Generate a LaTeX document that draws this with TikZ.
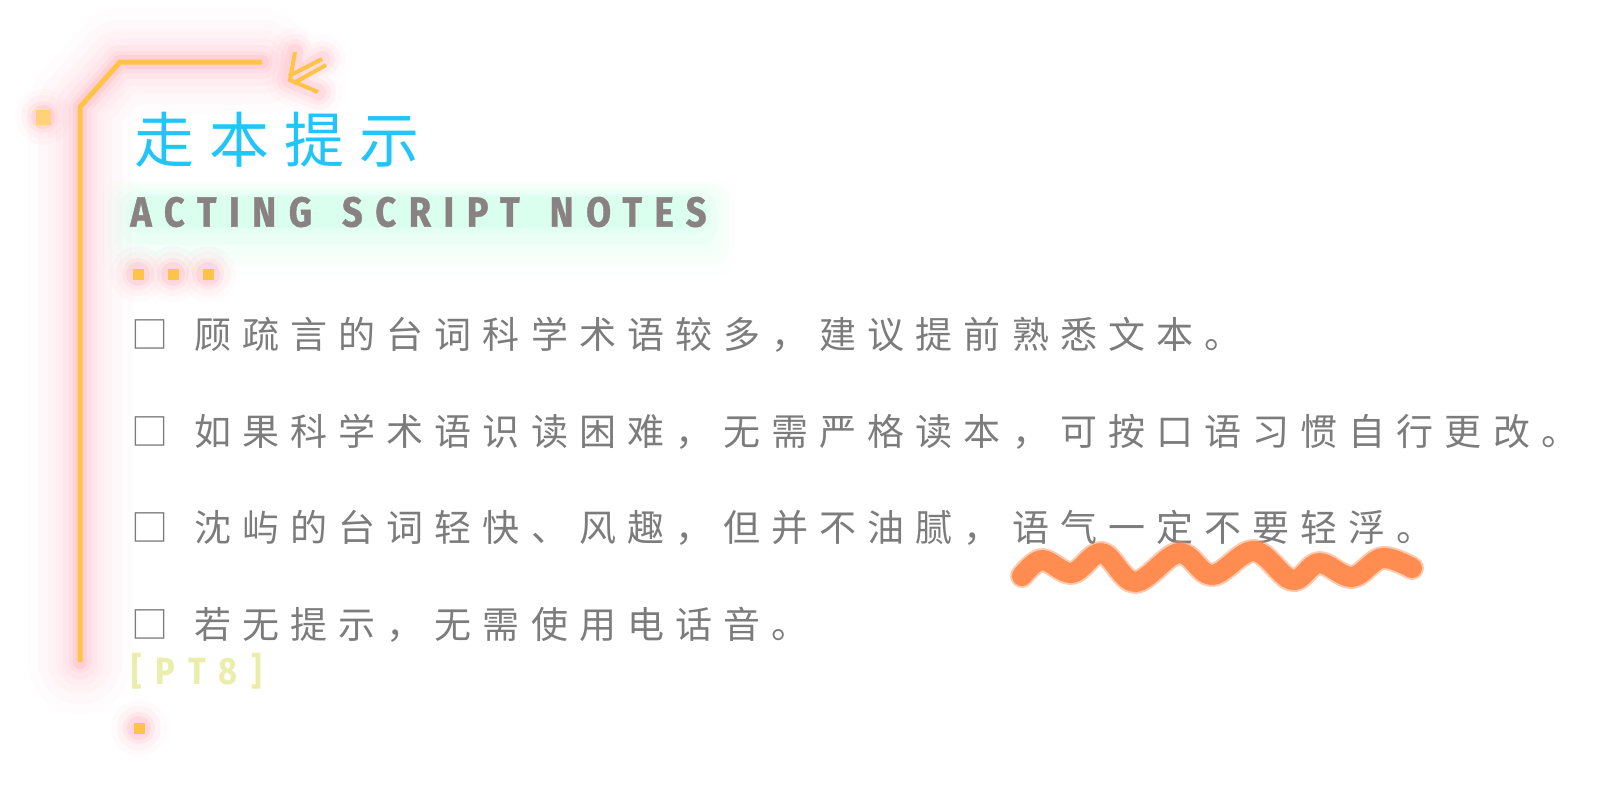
\documentclass[tikz,border=0pt]{standalone}
\usepackage{fontspec}
\usetikzlibrary{backgrounds}
\newfontfamily\cjkbody[LetterSpace=30]{Noto Sans CJK SC}
\newfontfamily\cjktitle[LetterSpace=25]{Noto Sans CJK SC}
\newfontfamily\techfont[FakeStretch=0.86,FakeBold=1,LetterSpace=30]{Fira Sans}
\newfontfamily\tagfont[FakeStretch=0.86,LetterSpace=36]{Fira Sans}

\definecolor{bracketgold}{HTML}{FFC445}
\definecolor{dotgold}{HTML}{FFD27A}
\definecolor{glowpink}{HTML}{FF8E9E}
\definecolor{titlecyan}{HTML}{22C5F9}
\definecolor{subgray}{HTML}{8A8282}
\definecolor{mintglow}{HTML}{8CFFD4}
\definecolor{bodygray}{HTML}{7C7C7C}
\definecolor{squigglecol}{HTML}{FF8D52}
\definecolor{tagyellow}{HTML}{EBEEAA}

\tikzset{
  goldline/.style={draw=bracketgold, line width=2.5pt},
  arrowline/.style={draw=bracketgold, line width=2pt},
  glow/.style={draw=glowpink, line cap=round, line join=round},
  golddot/.style={rectangle, fill=#1, inner sep=0pt, minimum size=5.5pt},
  notetext/.style={anchor=west, inner sep=0pt, text=bodygray,
    font=\cjkbody\fontsize{18.5}{22}\selectfont},
  subtext/.style={anchor=west, inner sep=0pt, text=subgray,
    font=\techfont\bfseries\fontsize{21}{24}\selectfont},
}

\begin{document}
\begin{tikzpicture}[x=0.5pt,y=-0.5pt]
  \begin{scope}[on background layer]
    \fill[white] (0,0) rectangle (1600,800);
  \end{scope}
  \useasboundingbox (0,0) rectangle (1600,800);

  % bracket with glow
  \coordinate (bracketbot) at (80,662);
  \coordinate (bracketknee) at (80,107);
  \coordinate (brackettop) at (120,62);
  \coordinate (bracketend) at (262,62);
  \foreach \w/\o in {52pt/0.02,42pt/0.03,32pt/0.04,24pt/0.05,17pt/0.07,11pt/0.1,7pt/0.16}
    \draw[glow, line width=\w, opacity=\o] (bracketbot) -- (bracketknee) -- (brackettop) -- (bracketend);
  \draw[goldline] (bracketbot) -- (bracketknee) -- (brackettop) -- (bracketend);

  % double arrow
  \coordinate (tip) at (290,80);
  \coordinate (armup) at (295,52);
  \coordinate (armright) at (318,92);
  \coordinate (shaftA) at (322,59);
  \coordinate (shaftB) at (326,65);
  \foreach \w/\o in {24pt/0.04,18pt/0.06,13pt/0.09,8pt/0.14}
    \draw[glow, line width=\w, opacity=\o] (armup) -- (tip) -- (armright) (tip) -- (shaftA);
  \draw[arrowline] (armup) -- (tip) -- (armright);
  \draw[arrowline] (289,76) -- (shaftA);
  \draw[arrowline] (294,83) -- (shaftB);

  % glowing dots
  \foreach \x/\y in {43/117,138/274,173/274,208/274,139/728}
    \foreach \r/\o in {14pt/0.04,11pt/0.06,8pt/0.1,6pt/0.16}
      \fill[glowpink, opacity=\o] (\x,\y) circle[radius=\r];
  \node[golddot=dotgold, minimum size=7.5pt] (dotleft) at (43,117) {};
  \node[golddot=bracketgold] (dotA) at (138,274) {};
  \node[golddot=bracketgold] (dotB) at (173,274) {};
  \node[golddot=bracketgold] (dotC) at (208,274) {};
  \node[golddot=bracketgold] (dotbottom) at (139,728) {};

  % headings
  \node[anchor=west, inner sep=0pt, text=titlecyan,
    font=\cjktitle\fontsize{30}{33}\selectfont] (title) at (134,140) {走本提示};
  \node[subtext] (subtitle) at (130,212) {ACTING\hspace{15pt}SCRIPT\hspace{15pt}NOTES};
  \begin{scope}[on background layer]
    \foreach \p/\o in {14/0.025,11/0.03,8/0.04,5/0.06,2/0.08,0/0.1}
      \fill[mintglow, opacity=\o, rounded corners=9pt]
        ([xshift=-\p pt, yshift=0.6*\p pt]subtitle.north west) rectangle ([xshift=\p pt, yshift=-1.7*\p pt]subtitle.south east);
  \end{scope}

  % notes
  \node[notetext] (noteA) at (131,335) {□\hspace{13pt}顾疏言的台词科学术语较多，建议提前熟悉文本。};
  \node[notetext] (noteB) at (131,432) {□\hspace{13pt}如果科学术语识读困难，无需严格读本，可按口语习惯自行更改。};
  \node[notetext] (noteC) at (131,528) {□\hspace{13pt}沈屿的台词轻快、风趣，但并不油腻，语气一定不要轻浮。};
  \node[notetext] (noteD) at (131,625) {□\hspace{13pt}若无提示，无需使用电话音。};

  % wavy underline
  \draw[squigglecol, line width=12pt, line cap=round, line join=round, opacity=0.45]
    plot[smooth, tension=0.6] coordinates {(1022,576) (1042,560) (1072,573) (1102,553) (1135,582)
      (1179,553) (1212,575) (1254,551) (1292,580) (1319,563) (1352,577) (1382,558) (1412,568)};
  \draw[squigglecol, line width=10pt, line cap=round, line join=round]
    plot[smooth, tension=0.6] coordinates {(1022,576) (1042,560) (1072,573) (1102,553) (1135,582)
      (1179,553) (1212,575) (1254,551) (1292,580) (1319,563) (1352,577) (1382,558) (1412,568)};

  % tag
  \node[anchor=west, inner sep=0pt, text=tagyellow,
    font=\tagfont\bfseries\fontsize{19}{22}\selectfont] (tag) at (131,671) {[PT8]};
\end{tikzpicture}
\end{document}
